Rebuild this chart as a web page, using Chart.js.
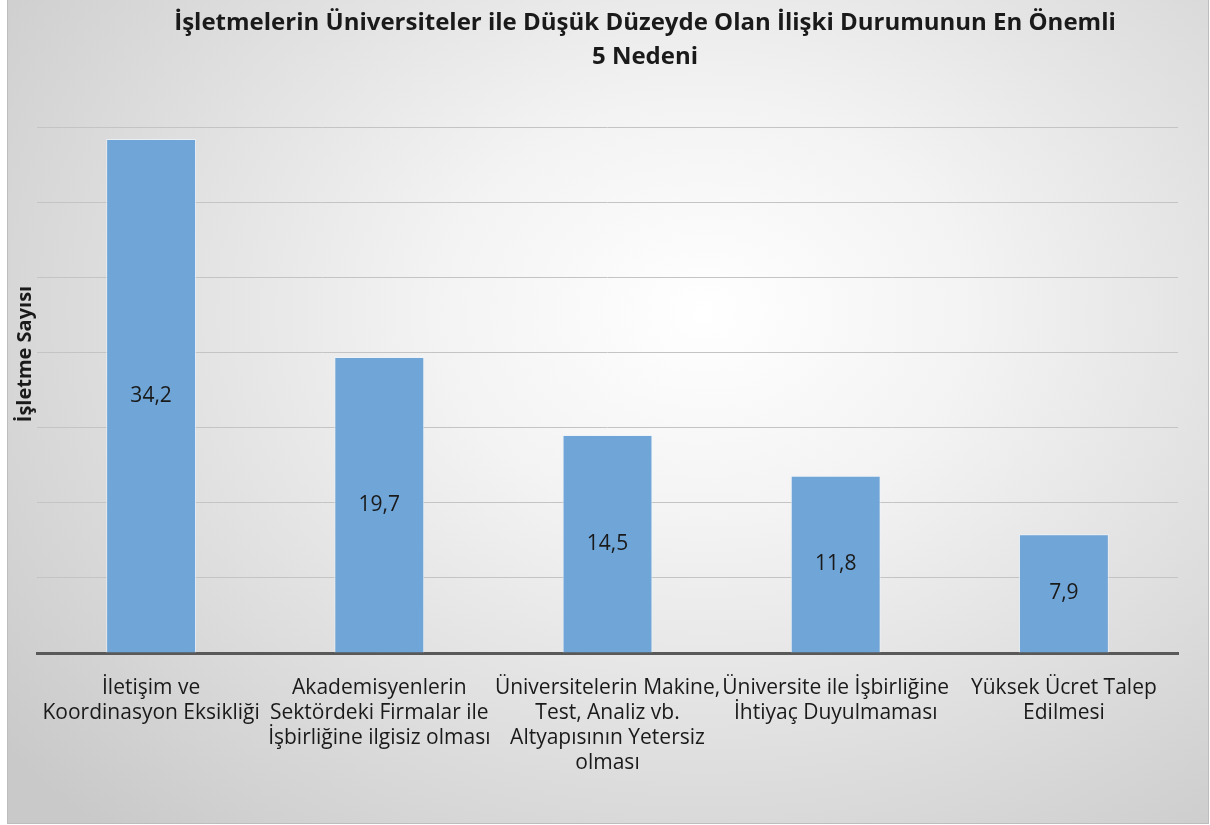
<!DOCTYPE html>
<html lang="tr">
<head>
<meta charset="utf-8">
<title>İşletme - Üniversite İlişkisi</title>
<script src="https://cdn.jsdelivr.net/npm/chart.js@4.4.0/dist/chart.umd.min.js"></script>
<style>
    html, body { margin: 0; padding: 0; background: #ffffff; }
    #kutu {
        position: absolute;
        left: 7px;
        top: -1px;
        width: 1200px;
        height: 823px;
        border: 1px solid #bdbdbd;
        background: radial-gradient(ellipse 75% 85% at 58% 38%, #ffffff 0%, #f3f3f3 30%, #dedede 65%, #c9c9c9 100%);
    }
</style>
</head>
<body>
<div id="kutu"><canvas id="nedenlerChart"></canvas></div>
<script>
// Nedenler ve işletme oranları
const nedenler = [
    ['İletişim ve', 'Koordinasyon Eksikliği'],
    ['Akademisyenlerin', 'Sektördeki Firmalar ile', 'İşbirliğine ilgisiz olması'],
    ['Üniversitelerin Makine,', 'Test, Analiz vb.', 'Altyapısının Yetersiz', 'olması'],
    ['Üniversite ile İşbirliğine', 'İhtiyaç Duyulmaması'],
    ['Yüksek Ücret Talep', 'Edilmesi']
];
const degerler = [34.2, 19.7, 14.5, 11.8, 7.9];
const baslik = ['İşletmelerin Üniversiteler ile Düşük Düzeyde Olan İlişki Durumunun En Önemli', '5 Nedeni'];
const eksenBaslik = 'İşletme Sayısı';
const yAdimlar = [0, 5, 10, 15, 20, 25, 30, 35];

const yazi = '"Open Sans", sans-serif';

// Başlık, eksen adı ve çubuk içi değerler
const yaziEklentisi = {
    id: 'yaziEklentisi',
    afterDatasetsDraw(chart) {
        const ctx = chart.ctx;
        const meta = chart.getDatasetMeta(0);
        ctx.save();
        ctx.fillStyle = '#1a1a1a';
        ctx.textAlign = 'center';
        ctx.textBaseline = 'middle';
        ctx.font = '21px ' + yazi;
        meta.data.forEach(function (bar, i) {
            const orta = (bar.y + bar.base) / 2;
            ctx.fillText(degerler[i].toFixed(1).replace('.', ','), bar.x, orta);
        });
        ctx.restore();
    },
    afterDraw(chart) {
        const ctx = chart.ctx;
        ctx.save();
        ctx.fillStyle = '#1a1a1a';
        ctx.textAlign = 'center';
        ctx.textBaseline = 'middle';
        ctx.font = 'bold 24px ' + yazi;
        ctx.fillText(baslik[0], 637, 23);
        ctx.fillText(baslik[1], 637, 57);

        ctx.font = 'bold 20px ' + yazi;
        ctx.translate(17, 354);
        ctx.rotate(-Math.PI / 2);
        ctx.fillText(eksenBaslik, 0, 0);
        ctx.restore();
    }
};

document.addEventListener('DOMContentLoaded', function () {
    const ctx = document.getElementById('nedenlerChart');
    new Chart(ctx, {
        type: 'bar',
        data: {
            labels: nedenler,
            datasets: [{
                data: degerler,
                backgroundColor: '#6fa5d7',
                borderColor: 'rgba(235, 243, 250, 0.8)',
                borderWidth: 1,
                categoryPercentage: 1,
                barPercentage: 0.394
            }]
        },
        options: {
            responsive: true,
            maintainAspectRatio: false,
            animation: false,
            layout: {
                padding: { left: 29, right: 30, top: 127, bottom: 24 }
            },
            scales: {
                y: {
                    min: 0,
                    max: 35,
                    afterBuildTicks: function (scale) {
                        scale.ticks = yAdimlar.map(function (v) { return { value: v }; });
                    },
                    ticks: { display: false },
                    grid: { color: '#c4c4c4', lineWidth: 1, drawTicks: false },
                    border: { display: false }
                },
                x: {
                    grid: { display: false, drawTicks: false },
                    border: { display: true, color: '#595959', width: 3 },
                    ticks: {
                        color: '#1a1a1a',
                        padding: 23,
                        maxRotation: 0,
                        autoSkip: false,
                        font: { family: yazi, size: 21, lineHeight: '25px' }
                    }
                }
            },
            plugins: {
                legend: { display: false },
                tooltip: { enabled: false }
            }
        },
        plugins: [yaziEklentisi]
    });
});
</script>
</body>
</html>
